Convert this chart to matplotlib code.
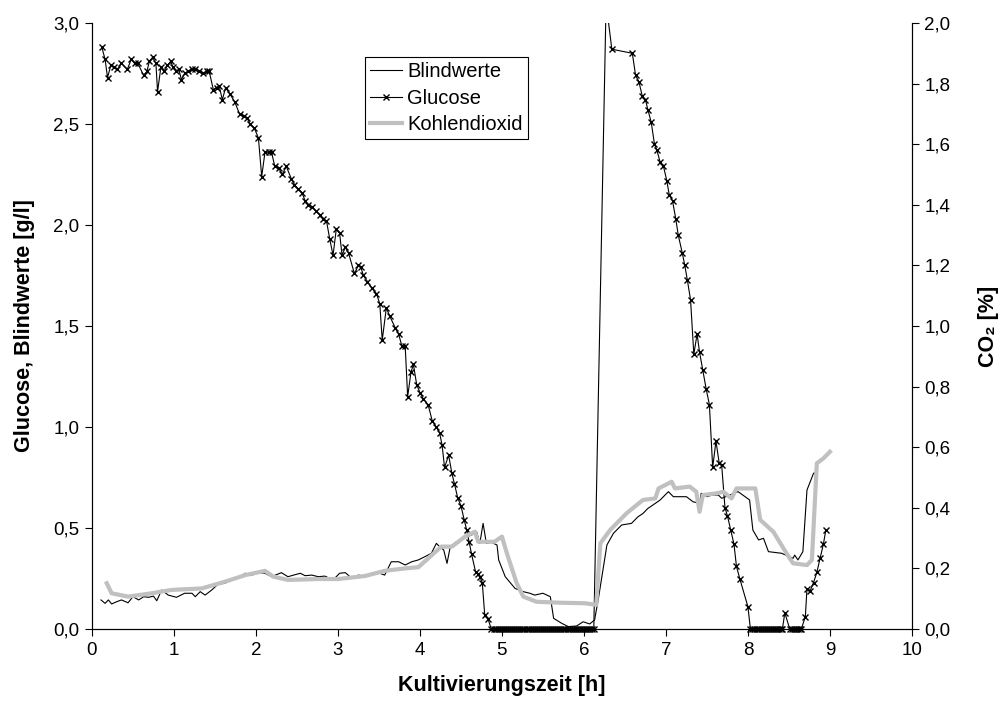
import numpy as np
import matplotlib
matplotlib.use("Agg")
import matplotlib.pyplot as plt
from matplotlib.ticker import FuncFormatter

plt.rcParams['font.family'] = ['Liberation Sans', 'DejaVu Sans']

# Glucose [g/l] (left axis)
glc_t = [0.12, 0.16, 0.19, 0.23, 0.27, 0.31, 0.36, 0.43, 0.48, 0.52, 0.56, 0.63, 0.67, 0.70,
         0.74, 0.78, 0.80, 0.84, 0.88, 0.92, 0.96, 0.99, 1.03, 1.06, 1.09, 1.13, 1.17, 1.22,
         1.26, 1.30, 1.36, 1.40, 1.43, 1.48, 1.52, 1.55, 1.59, 1.63, 1.68, 1.74, 1.80, 1.85,
         1.89, 1.93, 1.98, 2.03, 2.07, 2.11, 2.16, 2.19, 2.23, 2.28, 2.32, 2.37, 2.43, 2.47,
         2.51, 2.56, 2.60, 2.64, 2.68, 2.73, 2.78, 2.82, 2.86, 2.90, 2.94, 2.98, 3.02, 3.05,
         3.09, 3.13, 3.20, 3.25, 3.28, 3.31, 3.36, 3.41, 3.47, 3.51, 3.54, 3.59, 3.63, 3.70,
         3.74, 3.78, 3.82, 3.85, 3.89, 3.92, 3.96, 4.00, 4.04, 4.10, 4.15, 4.20, 4.24, 4.27,
         4.30, 4.35, 4.39, 4.42, 4.46, 4.50, 4.54, 4.57, 4.60, 4.63, 4.68, 4.71, 4.73, 4.76,
         4.79, 4.83, 4.87,
         4.900, 4.925, 4.950, 4.975, 5.000, 5.025, 5.050, 5.075, 5.100, 5.125, 5.150, 5.175,
         5.200, 5.225, 5.250, 5.275, 5.300, 5.325, 5.350, 5.375, 5.400, 5.425, 5.450, 5.475,
         5.500, 5.525, 5.550, 5.575, 5.600, 5.625, 5.650, 5.675, 5.700, 5.725, 5.750, 5.775,
         5.800, 5.825, 5.850, 5.875, 5.900, 5.925, 5.950, 5.975, 6.000, 6.025, 6.050, 6.075,
         6.100, 6.120,
         6.27, 6.34, 6.59, 6.63, 6.67, 6.71, 6.75, 6.78, 6.82, 6.86, 6.89, 6.93, 6.97, 7.01,
         7.04, 7.08, 7.12, 7.15, 7.20, 7.23, 7.26, 7.30, 7.34, 7.38, 7.41, 7.45, 7.49, 7.53,
         7.57, 7.61, 7.65, 7.68, 7.72, 7.75, 7.79, 7.83, 7.86, 7.90, 8.00, 8.03,
         8.055, 8.080, 8.105, 8.130, 8.155, 8.180, 8.205, 8.230, 8.255, 8.280, 8.305, 8.330,
         8.355, 8.380, 8.405, 8.420, 8.45,
         8.510, 8.535, 8.560, 8.585, 8.610, 8.635, 8.650,
         8.70, 8.72, 8.76, 8.80, 8.84, 8.88, 8.92, 8.95]
glc_v = [2.88, 2.82, 2.73, 2.79, 2.78, 2.77, 2.80, 2.77, 2.82, 2.80, 2.80, 2.74, 2.76, 2.81,
         2.83, 2.80, 2.66, 2.78, 2.76, 2.79, 2.81, 2.78, 2.76, 2.77, 2.72, 2.75, 2.76, 2.77,
         2.77, 2.76, 2.75, 2.76, 2.76, 2.67, 2.68, 2.69, 2.62, 2.68, 2.65, 2.61, 2.55, 2.54,
         2.53, 2.50, 2.48, 2.43, 2.24, 2.36, 2.36, 2.36, 2.29, 2.28, 2.25, 2.29, 2.23, 2.20,
         2.18, 2.16, 2.12, 2.10, 2.09, 2.07, 2.05, 2.03, 2.02, 1.93, 1.85, 1.98, 1.96, 1.85,
         1.89, 1.86, 1.76, 1.80, 1.79, 1.75, 1.72, 1.69, 1.66, 1.61, 1.43, 1.59, 1.55, 1.49,
         1.46, 1.40, 1.40, 1.15, 1.27, 1.31, 1.21, 1.17, 1.14, 1.11, 1.03, 1.00, 0.97, 0.91,
         0.80, 0.86, 0.77, 0.72, 0.65, 0.61, 0.54, 0.49, 0.43, 0.37, 0.28, 0.27, 0.26, 0.23,
         0.07, 0.05, 0.00,
         0, 0, 0, 0, 0, 0, 0, 0, 0, 0, 0, 0,
         0, 0, 0, 0, 0, 0, 0, 0, 0, 0, 0, 0,
         0, 0, 0, 0, 0, 0, 0, 0, 0, 0, 0, 0,
         0, 0, 0, 0, 0, 0, 0, 0, 0, 0, 0, 0,
         0, 0,
         3.10, 2.87, 2.85, 2.74, 2.71, 2.64, 2.62, 2.57, 2.51, 2.40, 2.37, 2.31, 2.29, 2.22,
         2.15, 2.12, 2.03, 1.95, 1.86, 1.80, 1.73, 1.63, 1.36, 1.46, 1.37, 1.28, 1.19, 1.11,
         0.80, 0.93, 0.82, 0.81, 0.60, 0.56, 0.49, 0.42, 0.31, 0.25, 0.11, 0.00,
         0, 0, 0, 0, 0, 0, 0, 0, 0, 0, 0, 0,
         0, 0, 0, 0, 0.08,
         0, 0, 0, 0, 0, 0, 0,
         0.06, 0.20, 0.19, 0.23, 0.28, 0.35, 0.42, 0.49]

# Blindwerte [g/l] (left axis)
bw_t = [0.11, 0.16, 0.20, 0.24, 0.30, 0.36, 0.44, 0.50, 0.57, 0.63, 0.69, 0.75, 0.79, 0.85,
        0.93, 1.03, 1.13, 1.22, 1.26, 1.32, 1.38, 1.46, 1.54, 1.62, 1.70, 1.79, 1.87, 1.95,
        2.03, 2.11, 2.19, 2.31, 2.39, 2.46, 2.54, 2.60, 2.68, 2.76, 2.84, 2.94, 3.02, 3.09,
        3.17, 3.25, 3.33, 3.49, 3.57, 3.65, 3.74, 3.82, 3.90, 3.98, 4.06, 4.14, 4.20, 4.24,
        4.29, 4.33, 4.37, 4.43, 4.51, 4.57, 4.63, 4.69, 4.73, 4.77, 4.81, 4.87, 4.94, 4.96,
        5.04, 5.16, 5.26, 5.34, 5.40, 5.50, 5.59, 5.63, 5.73, 5.81, 5.91, 5.99, 6.07, 6.13,
        6.18, 6.28, 6.36, 6.46, 6.58, 6.66, 6.72, 6.78, 6.87, 6.93, 7.03, 7.09, 7.25, 7.33,
        7.41, 7.43, 7.50, 7.56, 7.64, 7.68, 7.88, 8.02, 8.06, 8.13, 8.19, 8.25, 8.41, 8.55,
        8.57, 8.61, 8.67, 8.72, 8.80, 8.82]
bw_v = [0.144, 0.127, 0.144, 0.124, 0.135, 0.144, 0.130, 0.160, 0.144, 0.160, 0.157, 0.163,
        0.140, 0.193, 0.168, 0.157, 0.177, 0.177, 0.160, 0.185, 0.168, 0.193, 0.223, 0.226,
        0.246, 0.256, 0.276, 0.267, 0.279, 0.276, 0.259, 0.279, 0.259, 0.267, 0.276, 0.264,
        0.267, 0.259, 0.262, 0.243, 0.276, 0.279, 0.251, 0.267, 0.259, 0.279, 0.267, 0.333,
        0.333, 0.317, 0.333, 0.342, 0.358, 0.375, 0.424, 0.408, 0.391, 0.325, 0.408, 0.428,
        0.441, 0.457, 0.465, 0.482, 0.424, 0.523, 0.424, 0.429, 0.416, 0.342, 0.259, 0.201,
        0.185, 0.177, 0.168, 0.177, 0.160, 0.053, 0.028, 0.012, 0.015, 0.036, 0.025, 0.045,
        0.160, 0.416, 0.474, 0.515, 0.523, 0.556, 0.572, 0.597, 0.622, 0.639, 0.680, 0.655,
        0.655, 0.630, 0.622, 0.672, 0.655, 0.663, 0.663, 0.647, 0.680, 0.639, 0.490, 0.441,
        0.449, 0.383, 0.375, 0.350, 0.366, 0.342, 0.383, 0.688, 0.771, 0.774]

# Kohlendioxid [%] (right axis)
co2_t = [0.18, 0.24, 0.44, 0.73, 0.97, 1.34, 1.62, 1.87, 2.11, 2.21, 2.39, 2.76, 3.00, 3.33,
         3.57, 3.82, 3.98, 4.10, 4.26, 4.39, 4.55, 4.67, 4.71, 4.91, 5.00, 5.06, 5.18, 5.26,
         5.42, 5.69, 6.01, 6.15, 6.20, 6.32, 6.52, 6.72, 6.87, 6.91, 7.07, 7.11, 7.29, 7.37,
         7.41, 7.45, 7.62, 7.70, 7.80, 7.86, 8.09, 8.15, 8.31, 8.47, 8.55, 8.72, 8.78, 8.84,
         8.92, 9.00]
co2_v = [0.151, 0.118, 0.107, 0.118, 0.129, 0.134, 0.156, 0.178, 0.192, 0.173, 0.162, 0.165,
         0.165, 0.175, 0.192, 0.200, 0.204, 0.233, 0.272, 0.272, 0.305, 0.321, 0.288, 0.288,
         0.305, 0.250, 0.151, 0.107, 0.090, 0.087, 0.085, 0.080, 0.283, 0.327, 0.382, 0.426,
         0.431, 0.464, 0.486, 0.464, 0.470, 0.453, 0.387, 0.442, 0.448, 0.453, 0.431, 0.464,
         0.464, 0.360, 0.321, 0.250, 0.217, 0.211, 0.228, 0.547, 0.563, 0.585]

x_ticks = np.arange(0, 11, 1)
left_ticks = np.arange(0, 3.01, 0.5)
right_ticks = np.arange(0, 2.01, 0.2)


def comma(v, pos):
    return f"{v:.1f}".replace(".", ",")


fig = plt.figure(figsize=(10.04, 7.09), dpi=100)
ax = fig.add_axes([0.0916, 0.1128, 0.8167, 0.8548])
ax2 = ax.twinx()

glc_t = np.array(glc_t)
glc_v = np.array(glc_v)
ax.plot(bw_t, bw_v, color='black', lw=0.8)
ax.plot(glc_t, glc_v, color='black', lw=0.8)
vis = glc_v <= 3.0
ax.plot(glc_t[vis], glc_v[vis], 'x', color='black', ms=5, mew=1.0, clip_on=False)
ax2.plot(co2_t, co2_v, color='#c0c0c0', lw=3.0, solid_joinstyle='round')

ax.set_xlim(0, 10)
ax.set_ylim(0, 3.0)
ax2.set_ylim(0, 2.0)
ax.set_xticks(x_ticks)
ax.set_yticks(left_ticks)
ax2.set_yticks(right_ticks)
ax.yaxis.set_major_formatter(FuncFormatter(comma))
ax2.yaxis.set_major_formatter(FuncFormatter(comma))

for a in (ax, ax2):
    a.spines['top'].set_visible(False)
    a.tick_params(labelsize=13.5, length=5, width=0.8, direction='out', pad=4)
    for s in a.spines.values():
        s.set_linewidth(0.8)

ax.set_xlabel('Kultivierungszeit [h]', fontsize=15.5, fontweight='bold', labelpad=12)
ax.set_ylabel('Glucose, Blindwerte [g/l]', fontsize=15.5, fontweight='bold', labelpad=13)
ax2.set_ylabel('CO₂ [%]', fontsize=15.5, fontweight='bold', labelpad=20)

h1, = ax.plot([], [], color='black', lw=0.8)
h2, = ax.plot([], [], '-x', color='black', lw=0.8, ms=5, mew=1.0)
h3, = ax2.plot([], [], color='#c0c0c0', lw=3.0)
leg = ax2.legend([h1, h2, h3], ['Blindwerte', 'Glucose', 'Kohlendioxid'],
                 loc='upper left', bbox_to_anchor=(0.333, 0.944), fontsize=14.5,
                 frameon=True, fancybox=False, edgecolor='black', framealpha=1,
                 handlelength=1.6, handletextpad=0.25, borderpad=0.25, labelspacing=0.38,
                 borderaxespad=0)
leg.get_frame().set_linewidth(0.8)

fig.savefig('out.png', dpi=100)
